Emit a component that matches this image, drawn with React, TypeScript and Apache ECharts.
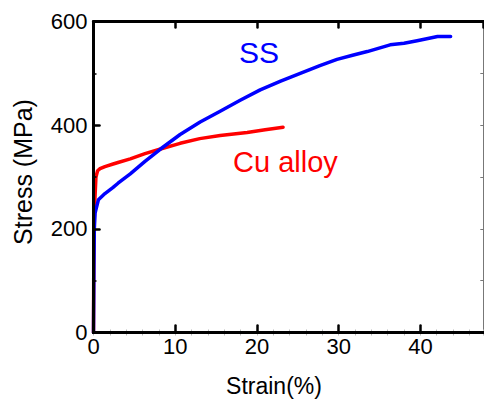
import React, { useEffect, useRef } from "react";
import * as echarts from "echarts";

const ssStrain = [0, 0.05, 0.1, 0.2, 0.6, 1.4, 2.4, 3.0, 4.5, 6.3, 8.2, 10.6, 13.05, 15.5, 17.95, 20.4, 22.9, 25.3, 27.7, 29.8, 31.7, 33.5, 36.3, 38.0, 39.6, 42.1, 43.7];
const ssStress = [0, 120, 200, 231, 256, 268, 280, 288, 306, 330, 354, 382, 406, 427, 448, 468, 485, 500, 515, 527, 535, 542, 555, 558, 563, 571, 571];
const cuStrain = [0, 0.05, 0.15, 0.3, 0.5, 0.8, 1.4, 2.4, 3.0, 4.5, 6.3, 8.2, 10.6, 13.0, 15.5, 18.8, 21.0, 23.2];
const cuStress = [0, 200, 250, 300, 312, 316, 320, 325, 328, 335, 345, 354, 365, 374, 380, 386, 391, 396];
const xTicks = [0, 10, 20, 30, 40];
const yTicks = [0, 200, 400, 600];

const FONT = "'Liberation Sans', Arial, sans-serif";

export default function App() {
  const ref = useRef<HTMLDivElement>(null);
  useEffect(() => {
    document.body.style.margin = "0";
    const chart = echarts.init(ref.current!, null, { renderer: "svg" });
    const xMax = 47.7;
    const yMax = 600;
    const baseX = {
      type: "value" as const,
      min: 0,
      max: xMax,
      splitLine: { show: false },
    };
    const baseY = {
      type: "value" as const,
      min: 0,
      max: yMax,
      splitLine: { show: false },
    };
    chart.setOption({
      animation: false,
      grid: { left: 93.5, right: 0.7, top: 21.5, bottom: 70.5, containLabel: false },
      xAxis: [
        {
          ...baseX,
          position: "bottom",
          interval: 10,
          axisLine: { show: true, onZero: false, lineStyle: { color: "#000", width: 3 } },
          axisTick: { show: true, inside: true, length: 7, lineStyle: { color: "#000", width: 2.5, cap: "round" } },
          axisLabel: {
            show: true,
            margin: 3,
            fontSize: 22,
            fontFamily: FONT,
            color: "#000",
            showMaxLabel: false,
            formatter: (v: number) => (xTicks.includes(v) ? String(v) : ""),
          },
          z: 5,
        },
        {
          ...baseX,
          position: "top",
          interval: 10,
          axisLine: { show: true, onZero: false, lineStyle: { color: "#000", width: 3 } },
          axisTick: { show: true, inside: true, length: 6, lineStyle: { color: "#000", width: 2.5, cap: "round" } },
          axisLabel: { show: false },
          z: 5,
        },
        {
          ...baseX,
          position: "bottom",
          interval: 2,
          axisLine: { show: false },
          axisTick: { show: true, inside: true, length: 3, lineStyle: { color: "#bbb", width: 1 } },
          axisLabel: { show: false },
        },
        {
          ...baseX,
          position: "top",
          interval: 2,
          axisLine: { show: false },
          axisTick: { show: true, inside: true, length: 3, lineStyle: { color: "#bbb", width: 1 } },
          axisLabel: { show: false },
        },
      ],
      yAxis: [
        {
          ...baseY,
          position: "left",
          interval: 200,
          axisLine: { show: true, onZero: false, lineStyle: { color: "#000", width: 3 } },
          axisTick: { show: true, inside: true, length: 6, lineStyle: { color: "#000", width: 2.5, cap: "round" } },
          minorTick: { show: true, splitNumber: 2, length: 3, lineStyle: { color: "#000", width: 1.5 } },
          axisLabel: {
            show: true,
            margin: 6,
            fontSize: 22,
            fontFamily: FONT,
            color: "#000",
            formatter: (v: number) => (yTicks.includes(v) ? String(v) : ""),
          },
          z: 5,
        },
        {
          ...baseY,
          position: "right",
          interval: 100,
          axisLine: { show: true, onZero: false, lineStyle: { color: "#777", width: 1 } },
          axisTick: { show: true, inside: true, length: 3, lineStyle: { color: "#777", width: 1 } },
          axisLabel: { show: false },
        },
      ],
      series: [
        {
          name: "Cu alloy",
          type: "line",
          xAxisIndex: 0,
          yAxisIndex: 0,
          data: cuStrain.map((x, i) => [x, cuStress[i]]),
          showSymbol: false,
          symbol: "none",
          lineStyle: { color: "#ff0000", width: 3.5, cap: "round", join: "round" },
          z: 2,
        },
        {
          name: "SS",
          type: "line",
          xAxisIndex: 0,
          yAxisIndex: 0,
          data: ssStrain.map((x, i) => [x, ssStress[i]]),
          showSymbol: false,
          symbol: "none",
          lineStyle: { color: "#0000ff", width: 3.5, cap: "round", join: "round" },
          z: 3,
        },
      ],
      graphic: [
        {
          type: "text",
          left: 239,
          top: 52.5 - 15,
          style: { text: "SS", fontSize: 30, fontFamily: FONT, fill: "#0000ff" },
        },
        {
          type: "text",
          left: 233,
          top: 161.5 - 14.5,
          style: { text: "Cu alloy", fontSize: 29, fontFamily: FONT, fill: "#ff0000" },
        },
        {
          type: "text",
          x: 274,
          y: 386,
          style: {
            text: "Strain(%)",
            fontSize: 23,
            fontFamily: FONT,
            fill: "#000",
            align: "center",
            verticalAlign: "middle",
          },
        },
        {
          type: "text",
          x: 23,
          y: 172,
          rotation: Math.PI / 2,
          style: {
            text: "Stress (MPa)",
            fontSize: 25,
            fontFamily: FONT,
            fill: "#000",
            align: "center",
            verticalAlign: "middle",
          },
        },
      ],
    });
    return () => chart.dispose();
  }, []);
  return <div ref={ref} style={{ width: 484, height: 403 }} />;
}
